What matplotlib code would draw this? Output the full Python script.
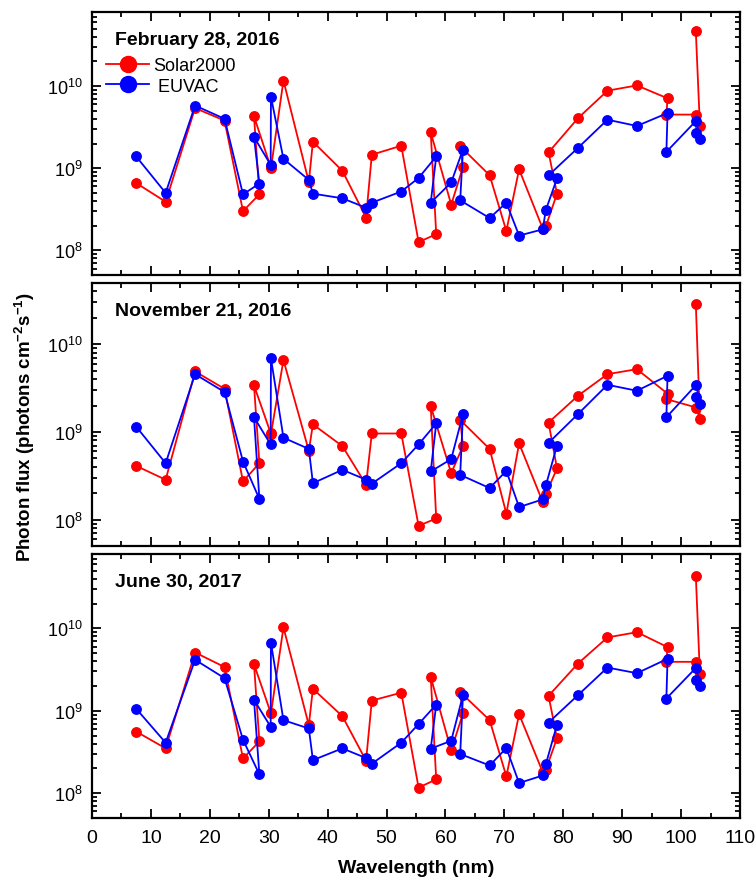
import matplotlib
matplotlib.use("Agg")
import matplotlib.pyplot as plt
from matplotlib import font_manager
from matplotlib.ticker import LogLocator, MultipleLocator, NullFormatter

# EUVAC 37-bin wavelengths (nm), in the order the bins are listed
wavelength = [7.5, 12.5, 17.5, 22.5, 25.632, 28.415, 27.5, 30.331, 30.378, 32.5,
              36.807, 37.5, 42.5, 46.522, 47.5, 52.5, 55.437, 58.433, 57.5, 60.976,
              62.973, 62.5, 67.5, 70.336, 72.5, 76.515, 77.041, 78.936, 77.5, 82.5,
              87.5, 92.5, 97.702, 97.5, 102.572, 103.191, 102.5]

dates = ["February 28, 2016", "November 21, 2016", "June 30, 2017"]

s2000_feb16 = [6.6e8, 3.9e8, 5.4e9, 3.8e9, 3.0e8, 4.8e8, 4.3e9, 1.03e9, 1.0e9, 1.17e10,
               6.8e8, 2.1e9, 9.3e8, 2.5e8, 1.46e9, 1.88e9, 1.26e8, 1.57e8, 2.73e9, 3.6e8,
               1.03e9, 1.85e9, 8.2e8, 1.72e8, 9.7e8, 1.84e8, 1.96e8, 4.9e8, 1.56e9, 4.07e9,
               8.8e9, 1.02e10, 7.1e9, 4.5e9, 4.5e9, 3.3e9, 4.67e10]
euvac_feb16 = [1.39e9, 5.0e8, 5.8e9, 4.0e9, 4.8e8, 6.5e8, 2.4e9, 1.1e9, 7.4e9, 1.3e9,
               7.2e8, 4.9e8, 4.3e8, 3.3e8, 3.8e8, 5.2e8, 7.6e8, 1.39e9, 3.8e8, 6.7e8,
               1.69e9, 4.06e8, 2.47e8, 3.8e8, 1.51e8, 1.80e8, 3.1e8, 7.5e8, 8.2e8, 1.77e9,
               3.9e9, 3.27e9, 4.7e9, 1.58e9, 3.8e9, 2.29e9, 2.68e9]

s2000_nov16 = [4.1e8, 2.85e8, 4.9e9, 3.1e9, 2.73e8, 4.4e8, 3.4e9, 9.7e8, 9.5e8, 6.6e9,
               6.1e8, 1.22e9, 6.9e8, 2.5e8, 9.6e8, 9.6e8, 8.5e7, 1.03e8, 1.97e9, 3.39e8,
               6.9e8, 1.37e9, 6.4e8, 1.17e8, 7.4e8, 1.59e8, 1.96e8, 3.83e8, 1.28e9, 2.59e9,
               4.56e9, 5.2e9, 2.73e9, 2.37e9, 1.9e9, 1.39e9, 2.9e10]
euvac_nov16 = [1.15e9, 4.4e8, 4.56e9, 2.85e9, 4.6e8, 1.72e8, 1.47e9, 7.2e8, 6.9e9, 8.6e8,
               6.4e8, 2.6e8, 3.7e8, 2.85e8, 2.57e8, 4.4e8, 7.2e8, 1.25e9, 3.54e8, 4.9e8,
               1.59e9, 3.24e8, 2.29e8, 3.6e8, 1.39e8, 1.70e8, 2.45e8, 7.0e8, 7.5e8, 1.6e9,
               3.45e9, 2.95e9, 4.37e9, 1.47e9, 3.45e9, 2.06e9, 2.48e9]

s2000_jun17 = [5.6e8, 3.5e8, 5.1e9, 3.4e9, 2.64e8, 4.25e8, 3.68e9, 9.5e8, 9.3e8, 1.03e10,
               6.7e8, 1.85e9, 8.6e8, 2.48e8, 1.33e9, 1.66e9, 1.17e8, 1.47e8, 2.58e9, 3.3e8,
               9.3e8, 1.69e9, 7.7e8, 1.6e8, 9.1e8, 1.8e8, 1.92e8, 4.67e8, 1.52e9, 3.75e9,
               7.77e9, 9.0e9, 5.93e9, 3.93e9, 3.93e9, 2.81e9, 4.37e10]
euvac_jun17 = [1.06e9, 4.1e8, 4.16e9, 2.49e9, 4.46e8, 1.69e8, 1.36e9, 6.4e8, 6.7e9, 7.7e8,
               6.1e8, 2.52e8, 3.5e8, 2.67e8, 2.28e8, 4.1e8, 6.9e8, 1.19e9, 3.47e8, 4.33e8,
               1.55e9, 2.99e8, 2.17e8, 3.53e8, 1.33e8, 1.64e8, 2.25e8, 6.8e8, 7.2e8, 1.55e9,
               3.35e9, 2.86e9, 4.28e9, 1.41e9, 3.35e9, 2.0e9, 2.39e9]

s2000 = [s2000_feb16, s2000_nov16, s2000_jun17]
euvac = [euvac_feb16, euvac_nov16, euvac_jun17]
ylims = [(5e7, 8e10), (5e7, 5e10), (5e7, 8e10)]

names = {f.name for f in font_manager.fontManager.ttflist}
main_font = "Liberation Sans" if "Liberation Sans" in names else "DejaVu Sans"
narrow_font = "Liberation Sans Narrow" if "Liberation Sans Narrow" in names else main_font

plt.rcParams["font.family"] = [main_font, "DejaVu Sans"]
plt.rcParams["mathtext.fontset"] = "custom"
plt.rcParams["mathtext.rm"] = main_font
plt.rcParams["mathtext.bf"] = main_font + ":bold"

fig = plt.figure(figsize=(7.56, 8.78), dpi=100)
left, width = 92 / 756, 648 / 756
tops = [13, 284, 555]
bottoms = [276, 547, 819]

axes = []
for i in range(3):
    y0 = 1 - bottoms[i] / 878
    h = (bottoms[i] - tops[i]) / 878
    ax = fig.add_axes([left, y0, width, h])
    axes.append(ax)

    ax.plot(wavelength, s2000[i], "-o", color="red", lw=1.3, ms=6.8,
            mec="red", label="Solar2000", zorder=3)
    ax.plot(wavelength, euvac[i], "-o", color="blue", lw=1.3, ms=6.8,
            mec="blue", label=" EUVAC", zorder=4)

    ax.set_yscale("log")
    ax.set_ylim(*ylims[i])
    ax.set_xlim(0, 110)
    ax.xaxis.set_major_locator(MultipleLocator(10))
    ax.xaxis.set_minor_locator(MultipleLocator(5))
    ax.yaxis.set_major_locator(LogLocator(base=10, numticks=10))
    ax.yaxis.set_minor_locator(LogLocator(base=10, subs=range(2, 10), numticks=20))
    ax.yaxis.set_minor_formatter(NullFormatter())
    ax.tick_params(which="both", direction="in", top=True, right=True, width=1.3)
    ax.tick_params(which="major", length=6.5)
    ax.tick_params(which="minor", length=3.5)
    ax.tick_params(axis="y", labelsize=13, pad=7)
    for sp in ax.spines.values():
        sp.set_linewidth(1.6)

    ax.text(0.035, 0.895, dates[i], transform=ax.transAxes, fontsize=14,
            fontweight="bold", va="center", ha="left")

    if i < 2:
        ax.tick_params(axis="x", labelbottom=False)
    else:
        ax.tick_params(axis="x", labelsize=14, pad=8)
        for lab in ax.get_xticklabels():
            lab.set_fontfamily(narrow_font)
        ax.set_xlabel("Wavelength (nm)", fontsize=14, fontweight="bold",
                      fontfamily=narrow_font, labelpad=9)

axes[0].legend(loc="upper left", bbox_to_anchor=(0.005, 0.87), frameon=False,
               fontsize=13, markerscale=1.7, handlelength=2.4, handletextpad=0.2,
               labelspacing=0.2, borderaxespad=0.2)

fig.text(25 / 756, 1 - 427 / 878,
         r"Photon flux (photons cm$^{\mathbf{-2}}$s$^{\mathbf{-1}}$)",
         rotation=90, ha="center", va="center", fontsize=13.5, fontweight="bold")

fig.savefig("out.png", dpi=100)
